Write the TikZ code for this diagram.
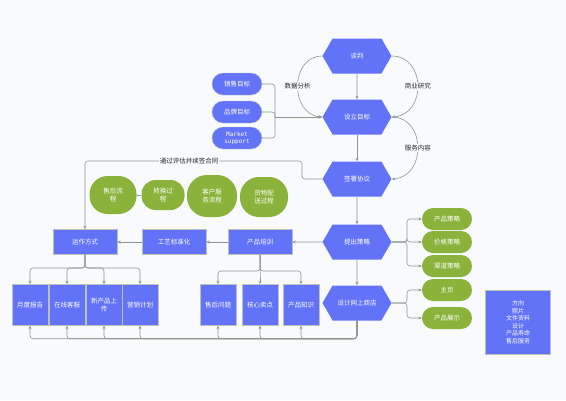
\documentclass[tikz,border=0pt]{standalone}
\usepackage{fontspec}
\setmainfont{Noto Sans CJK SC}
\setmonofont{DejaVu Sans Mono}
\usetikzlibrary{arrows.meta,bending,shapes.symbols}
\definecolor{bluebox}{RGB}{98,115,248}
\definecolor{greenbox}{RGB}{139,178,58}
\definecolor{linegray}{RGB}{140,152,140}
\definecolor{bgpaper}{RGB}{248,250,253}

\begin{document}
\begin{tikzpicture}[x=1pt,y=-1pt,font=\fontsize{6.5}{8}\selectfont,
    arj/.style={linegray,line width=0.6pt,rounded corners=3pt,-{Stealth[length=3.5pt,width=3pt,bend]}},
    hexa/.style={shape=signal,signal to=west and east,signal pointer angle=120,fill=bluebox,text=white,minimum width=69pt,minimum height=35pt,inner sep=0pt},
    pill/.style={fill=greenbox,text=white,rounded corners=11pt,minimum width=50pt,minimum height=22pt,inner sep=0pt},
    goal/.style={pill,fill=bluebox,draw=linegray!60,line width=0.4pt},
    bbox/.style={fill=bluebox,text=white,draw=linegray!60,line width=0.4pt,minimum width=64pt,minimum height=25pt,inner sep=0pt,align=center},
    tbox/.style={bbox,minimum width=36pt,minimum height=41pt},
    blob/.style={fill=greenbox,text=white,align=center,inner sep=0pt},
    lab/.style={fill=bgpaper,inner sep=1pt,text=black!85}]
\fill[bgpaper] (0,0) rectangle (566,400);
\useasboundingbox (0,0) rectangle (566,400);

% main column
\node[hexa] (tp) at (357,56) {谈判};
\node[hexa] (sl) at (357,117) {设立目标};
\node[hexa] (qs) at (357,179) {签署协议};
\node[hexa] (tc) at (357,242) {提出策略};
\node[hexa] (ws) at (357,303) {设计网上商店};

% goals
\node[goal] (xs) at (237,84) {销售目标};
\node[goal] (pp) at (237,112) {品牌目标};
\node[goal,align=center,font=\ttfamily\fontsize{6}{7}\selectfont] (ms) at (237,138) {Market\\support};

% strategies
\node[pill] (cl1) at (447,219) {产品策略};
\node[pill] (cl2) at (447,242) {价格策略};
\node[pill] (cl3) at (447,266) {渠道策略};
\node[pill] (cl4) at (447,290) {主页};
\node[pill] (cl5) at (447,318) {产品展示};

% processes
\node[blob,minimum width=47pt,minimum height=38pt,rounded corners=18pt] (shlc) at (113,195) {售后流\\程};
\node[blob,minimum width=43pt,minimum height=30pt,rounded corners=14pt] (zhgc) at (163,195) {转换过\\程};
\node[blob,minimum width=50pt,minimum height=42pt,rounded corners=20pt] (khfw) at (212,196) {客户服\\务流程};
\node[blob,minimum width=48pt,minimum height=40pt,rounded corners=19pt] (hwps) at (264,197) {货物配\\送过程};

% middle row
\node[bbox] (yz) at (85,242) {运作方式};
\node[bbox] (gy) at (174,242) {工艺标准化};
\node[bbox] (px) at (260,242) {产品培训};

% bottom row
\node[tbox] (b1) at (30,305) {月度报告};
\node[tbox] (b2) at (67,305) {在线客服};
\node[tbox] (b3) at (104,305) {新产品上\\传};
\node[tbox] (b4) at (140,305) {营销计划};
\node[tbox] (b5) at (218,305) {售后问题};
\node[tbox] (b6) at (260,305) {核心卖点};
\node[tbox] (b7) at (301,305) {产品知识};

\node[bbox,minimum width=65pt,minimum height=64pt,font=\fontsize{6}{7.5}\selectfont] (fx) at (518,322) {方向\\照片\\文件资料\\设计\\产品寿命\\售后服务};

\coordinate (jn) at (275,117);
\coordinate (f1) at (85,268);
\coordinate (f2) at (260,271);
\coordinate (f3) at (407,242);
\coordinate (f4) at (407,303);

\draw[arj] (tp) -- (sl);
\draw[arj] (sl) -- (qs);
\draw[arj] (qs) -- (tc);
\draw[arj] (tc) -- (ws);
\draw[arj] (tp.west) .. controls +(-33,0) and +(-33,0) .. node[lab]{数据分析} (sl.west);
\draw[arj] (tp.east) .. controls +(35,0) and +(35,0) .. node[lab]{商业研究} (sl.east);
\draw[arj] (sl.east) .. controls +(35,0) and +(35,0) .. node[lab]{服务内容} (qs.east);

\foreach \g in {xs,pp,ms}
  \draw[linegray,line width=0.6pt,rounded corners=3pt] (\g.east) -| (jn);
\draw[arj] (jn) -- (sl.west);

\draw[arj] (qs.west) -- (302,179) -- (302,161) -- node[lab,pos=0.52]{通过评估并续签合同} (85,161) -- (yz.north);

\draw[arj] (tc) -- (px);
\draw[arj] (px) -- (gy);
\draw[arj] (gy) -- (yz);

\foreach \c in {cl1,cl2,cl3}
  \draw[arj] (tc.east) -- (f3) |- (\c.west);
\foreach \c in {cl4,cl5}
  \draw[arj] (ws.east) -- (f4) |- (\c.west);

\foreach \b in {b1,b2,b3,b4}
  \draw[arj] (yz.south) -- (f1) -| (\b.north);
\foreach \b in {b5,b6,b7}
  \draw[arj] (px.south) -- (f2) -| (\b.north);
\foreach \b in {b1,b2,b3,b4,b5,b6,b7}
  \draw[arj] (ws.south) |- ([yshift=-13pt]\b.south) -- (\b.south);

\draw[linegray,line width=0.6pt] (shlc) -- (zhgc);
\end{tikzpicture}
\end{document}
